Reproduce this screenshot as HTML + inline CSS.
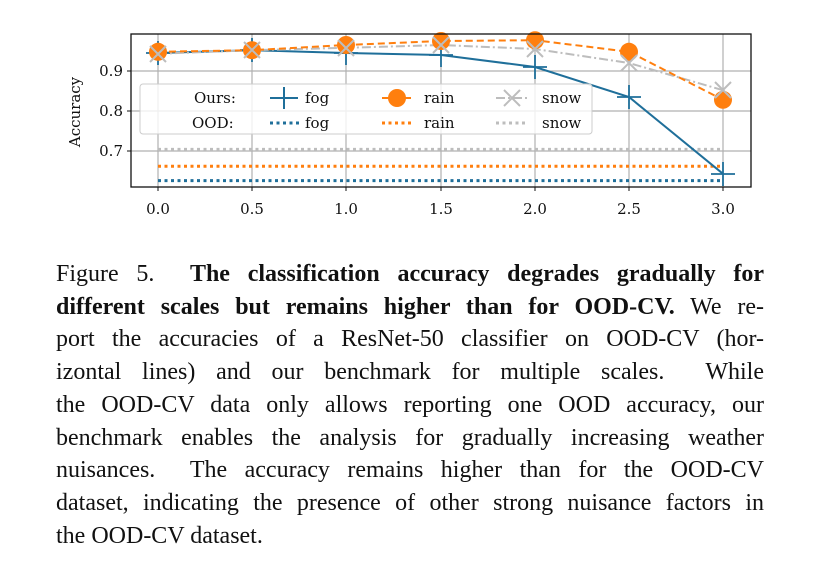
<!DOCTYPE html><html><head><style>
body{margin:0;width:823px;height:583px;background:#fff;overflow:hidden;position:relative}
.cap{position:absolute;left:56px;top:258px;width:708px;font-family:"Liberation Serif",serif;font-size:24px;line-height:32.7px;color:#111}
.cap div{text-align:justify;text-align-last:justify;white-space:nowrap}
.cap div.last{text-align-last:left}
</style></head><body>
<svg width="823" height="240" style="position:absolute;left:0;top:0" font-family="DejaVu Serif, serif">
<g stroke="#b0b0b0" stroke-width="1.2">
<line x1="158" y1="34" x2="158" y2="187"/><line x1="252" y1="34" x2="252" y2="187"/><line x1="346" y1="34" x2="346" y2="187"/><line x1="441" y1="34" x2="441" y2="187"/><line x1="535" y1="34" x2="535" y2="187"/><line x1="629" y1="34" x2="629" y2="187"/><line x1="723" y1="34" x2="723" y2="187"/>
<line x1="131" y1="71" x2="751" y2="71"/><line x1="131" y1="111" x2="751" y2="111"/><line x1="131" y1="151" x2="751" y2="151"/>
</g>
<g stroke-width="3" stroke-dasharray="3,3.5">
<line x1="158" y1="149.4" x2="723" y2="149.4" stroke="#bdbdbd"/>
<line x1="158" y1="166.2" x2="723" y2="166.2" stroke="#ff7f0e"/>
<line x1="158" y1="180.6" x2="723" y2="180.6" stroke="#1f6f9a"/>
</g>
<polyline fill="none" stroke="#1f6f9a" stroke-width="2" points="158,53 252,50.2 346,53 441,55 535,67 629,97 723,173.8"/>
<g stroke="#1f6f9a" stroke-width="1.8">
<path d="M146,53h24M158,41v24M240,50h24M252,38v24M334,53h24M346,41v24M429,55h24M441,43v24M523,67h24M535,55v24M617,97h24M629,85v24M711,174h24M723,162v24"/>
</g>
<polyline fill="none" stroke="#bdbdbd" stroke-width="2" stroke-dasharray="9,3,2,3" points="158,53.8 252,50.2 346,47.8 441,45 535,49 629,63 723,90.2"/>
<polyline fill="none" stroke="#ff7f0e" stroke-width="2" stroke-dasharray="7,4" points="158,51.8 252,50.2 346,45 441,41 535,40.2 629,51.8 723,99.8"/>
<g fill="#ff7f0e"><circle cx="158" cy="51.8" r="9"/><circle cx="252" cy="50.2" r="9"/><circle cx="346" cy="45" r="9"/><circle cx="441" cy="41" r="9"/><circle cx="535" cy="40.2" r="9"/><circle cx="629" cy="51.8" r="9"/><circle cx="723" cy="99.8" r="9"/></g>
<g stroke="#bdbdbd" stroke-width="2"><path d="M150,46l16,16M150,62l16-16M244,42l16,16M244,58l16-16M338,40l16,16M338,56l16-16M433,37l16,16M433,53l16-16M527,41l16,16M527,57l16-16M621,55l16,16M621,71l16-16M715,82l16,16M715,98l16-16"/></g>
<rect x="140" y="84" width="452" height="50" rx="3" fill="#fff" fill-opacity="0.8" stroke="#ccc"/>
<g font-size="15" fill="#111">
<text x="194" y="103">Ours:</text><text x="192" y="128">OOD:</text>
<text x="305" y="103">fog</text><text x="424" y="103">rain</text><text x="542" y="103">snow</text>
<text x="305" y="128">fog</text><text x="424" y="128">rain</text><text x="542" y="128">snow</text>
</g>
<g stroke-width="2"><line x1="270" y1="98" x2="298" y2="98" stroke="#1f6f9a"/><path d="M284,87v22M272,98h24" stroke="#1f6f9a"/>
<line x1="382" y1="98" x2="412" y2="98" stroke="#ff7f0e" stroke-dasharray="7,4"/><circle cx="397" cy="98" r="9" fill="#ff7f0e"/>
<line x1="496" y1="98" x2="528" y2="98" stroke="#bdbdbd" stroke-dasharray="9,3,2,3"/><path d="M504,90l16,16M504,106l16-16" stroke="#bdbdbd"/></g>
<g stroke-width="3" stroke-dasharray="3,3.5"><line x1="270" y1="123" x2="300" y2="123" stroke="#1f6f9a"/><line x1="382" y1="123" x2="412" y2="123" stroke="#ff7f0e"/><line x1="496" y1="123" x2="528" y2="123" stroke="#bdbdbd"/></g>
<rect x="131" y="34" width="620" height="153" fill="none" stroke="#111" stroke-width="1.3"/>
<g stroke="#111"><path d="M158,187v4M252,187v4M346,187v4M441,187v4M535,187v4M629,187v4M723,187v4M131,71h-4M131,111h-4M131,151h-4"/></g>
<g font-size="15" fill="#111" text-anchor="middle">
<text x="158" y="214">0.0</text><text x="252" y="214">0.5</text><text x="346" y="214">1.0</text><text x="441" y="214">1.5</text><text x="535" y="214">2.0</text><text x="629" y="214">2.5</text><text x="723" y="214">3.0</text>
</g>
<g font-size="15" fill="#111" text-anchor="end"><text x="123" y="76">0.9</text><text x="123" y="116">0.8</text><text x="123" y="156">0.7</text></g>
<text transform="translate(80,112) rotate(-90)" font-size="15" text-anchor="middle" fill="#111">Accuracy</text>
</svg>
<div class="cap">
<div>Figure 5.&nbsp; <b>The classification accuracy degrades gradually for</b></div>
<div><b>different scales but remains higher than for OOD-CV.</b> We re-</div>
<div>port the accuracies of a ResNet-50 classifier on OOD-CV (hor-</div>
<div>izontal lines) and our benchmark for multiple scales.&nbsp; While</div>
<div>the OOD-CV data only allows reporting one OOD accuracy, our</div>
<div>benchmark enables the analysis for gradually increasing weather</div>
<div>nuisances.&nbsp; The accuracy remains higher than for the OOD-CV</div>
<div>dataset, indicating the presence of other strong nuisance factors in</div>
<div class="last">the OOD-CV dataset.</div>
</div>
</body></html>
